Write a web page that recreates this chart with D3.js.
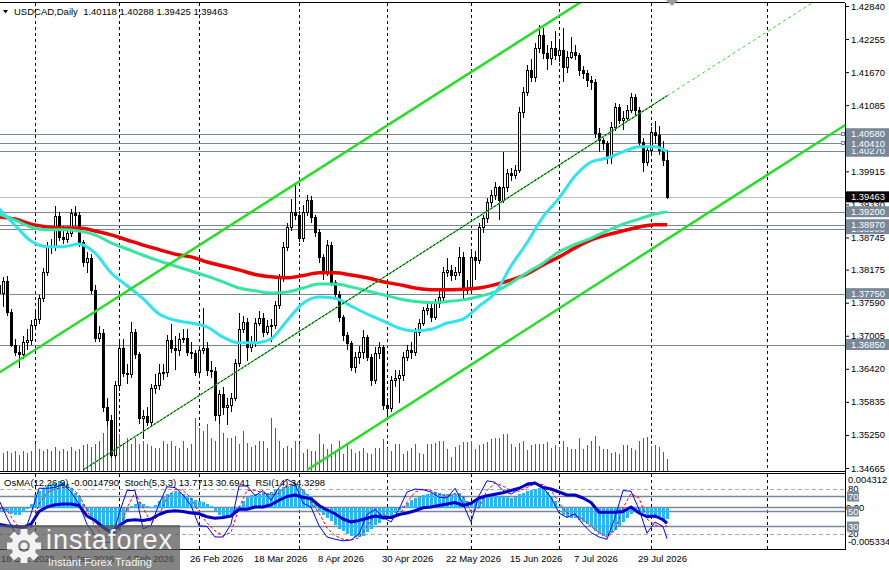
<!DOCTYPE html>
<html>
<head>
<meta charset="utf-8">
<script src="https://cdn.jsdelivr.net/npm/d3@7"></script>
<style>
  html, body { margin: 0; padding: 0; background: #fff; }
  svg { display: block; font-family: "Liberation Sans", Arial, sans-serif; }
</style>
</head>
<body>
<svg id="chart" width="889" height="570"></svg>
<script>
// ---- data ----
const symbol = "USDCAD,Daily";
const firstOpen = 1.3790;
const closes = [
  1.3776,1.3797,1.3743,1.3684,1.3672,1.3668,1.3689,1.3693,1.3720,1.3730,
  1.3767,1.3813,1.3858,1.3859,1.3912,1.3875,1.3872,1.3882,1.3918,1.3914,
  1.3866,1.3831,1.3838,1.3781,1.3697,1.3705,1.3574,1.3551,1.3490,1.3613,
  1.3679,1.3635,1.3633,1.3707,1.3668,1.3555,1.3558,1.3548,1.3608,1.3613,
  1.3635,1.3636,1.3693,1.3679,1.3675,1.3695,1.3697,1.3672,1.3670,1.3636,
  1.3675,1.3679,1.3640,1.3638,1.3560,1.3597,1.3574,1.3578,1.3590,1.3652,
  1.3712,1.3725,1.3681,1.3688,1.3723,1.3732,1.3707,1.3718,1.3720,1.3755,
  1.3803,1.3858,1.3893,1.3920,1.3914,1.3874,1.3920,1.3941,1.3911,1.3884,
  1.3840,1.3813,1.3861,1.3796,1.3774,1.3734,1.3702,1.3688,1.3645,1.3663,
  1.3672,1.3698,1.3663,1.3622,1.3670,1.3681,1.3578,1.3573,1.3622,1.3626,
  1.3631,1.3663,1.3675,1.3672,1.3707,1.3723,1.3746,1.3750,1.3734,1.3758,
  1.3769,1.3813,1.3817,1.3808,1.3813,1.3840,1.3781,1.3785,1.3840,1.3835,
  1.3893,1.3909,1.3937,1.3950,1.3964,1.3941,1.3964,1.3988,1.3985,1.3994,
  1.4096,1.4132,1.4171,1.4158,1.4210,1.4233,1.4201,1.4192,1.4210,1.4197,
  1.4206,1.4176,1.4194,1.4203,1.4197,1.4171,1.4165,1.4153,1.4150,1.4059,
  1.4047,1.4042,1.4017,1.4070,1.4105,1.4082,1.4086,1.4100,1.4123,1.4100,
  1.4043,1.4008,1.4029,1.4061,1.4056,1.4029,1.40118,1.39463
];
const highs = [
  1.3800,1.3804,1.3806,1.3748,1.3695,1.3683,1.3700,1.3712,1.3728,1.3745,
  1.3772,1.3820,1.3866,1.3872,1.3930,1.3920,1.3895,1.3894,1.3925,1.3930,
  1.3920,1.3870,1.3848,1.3845,1.3790,1.3718,1.3712,1.3590,1.3560,1.3620,
  1.3690,1.3695,1.3650,1.3725,1.3712,1.3672,1.3570,1.3575,1.3615,1.3632,
  1.3650,1.3650,1.3702,1.3722,1.3700,1.3705,1.3712,1.3712,1.3690,1.3676,
  1.3682,1.3750,1.3690,1.3655,1.3645,1.3605,1.3610,1.3590,1.3600,1.3660,
  1.3740,1.3735,1.3732,1.3700,1.3732,1.3745,1.3740,1.3728,1.3730,1.3762,
  1.3810,1.3866,1.3900,1.3942,1.3970,1.3922,1.3932,1.3950,1.3948,1.3915,
  1.3890,1.3845,1.3870,1.3866,1.3800,1.3780,1.3738,1.3708,1.3692,1.3672,
  1.3682,1.3710,1.3702,1.3668,1.3680,1.3690,1.3684,1.3590,1.3630,1.3640,
  1.3640,1.3672,1.3685,1.3690,1.3715,1.3730,1.3752,1.3762,1.3758,1.3765,
  1.3780,1.3822,1.3838,1.3825,1.3822,1.3858,1.3848,1.3800,1.3848,1.3850,
  1.3900,1.3915,1.3945,1.3958,1.3972,1.3966,1.4025,1.3995,1.3998,1.4002,
  1.4105,1.4140,1.4180,1.4190,1.4218,1.4250,1.4245,1.4215,1.4222,1.4240,
  1.4220,1.4245,1.4205,1.4230,1.4215,1.4200,1.4178,1.4170,1.4160,1.4155,
  1.4068,1.4050,1.4045,1.4078,1.4112,1.4110,1.4098,1.4108,1.4130,1.4128,
  1.4105,1.4050,1.4035,1.4070,1.4080,1.4072,1.4045,1.40288
];
const lows = [
  1.3765,1.3751,1.3735,1.3680,1.3665,1.3643,1.3660,1.3675,1.3684,1.3712,
  1.3722,1.3760,1.3806,1.3845,1.3850,1.3868,1.3862,1.3864,1.3876,1.3895,
  1.3858,1.3822,1.3812,1.3775,1.3690,1.3690,1.3565,1.3540,1.3485,1.3484,
  1.3602,1.3628,1.3615,1.3625,1.3660,1.3545,1.3518,1.3540,1.3540,1.3598,
  1.3605,1.3622,1.3628,1.3670,1.3640,1.3665,1.3688,1.3665,1.3660,1.3630,
  1.3630,1.3668,1.3630,1.3625,1.3550,1.3545,1.3560,1.3543,1.3565,1.3585,
  1.3645,1.3705,1.3655,1.3672,1.3680,1.3718,1.3698,1.3702,1.3690,1.3712,
  1.3748,1.3796,1.3850,1.3885,1.3905,1.3866,1.3866,1.3912,1.3900,1.3875,
  1.3830,1.3800,1.3806,1.3788,1.3765,1.3725,1.3692,1.3675,1.3638,1.3635,
  1.3650,1.3660,1.3655,1.3612,1.3615,1.3660,1.3570,1.3552,1.3565,1.3610,
  1.3582,1.3620,1.3655,1.3660,1.3665,1.3700,1.3718,1.3738,1.3725,1.3728,
  1.3750,1.3762,1.3805,1.3798,1.3800,1.3806,1.3764,1.3774,1.3778,1.3799,
  1.3828,1.3882,1.3900,1.3928,1.3940,1.3905,1.3935,1.3955,1.3975,1.3978,
  1.3988,1.4085,1.4125,1.4150,1.4150,1.4200,1.4190,1.4170,1.4180,1.4188,
  1.4185,1.4150,1.4165,1.4190,1.4188,1.4160,1.4155,1.4140,1.4135,1.4050,
  1.4025,1.4030,1.4005,1.4005,1.4062,1.4075,1.4065,1.4080,1.4095,1.4090,
  1.4035,1.3990,1.4000,1.4020,1.4040,1.4020,1.4000,1.39425
];
// tick volume (hundreds)
const volumes = [
  20,18,20,18,20,16,20,18,20,27, 22,20,22,20,24,20,22,20,24,20,
  22,26,27,24,27,30,38,53,53,31, 37,27,33,27,33,27,30,27,25,23,
  23,30,27,30,25,23,30,23,27,53, 43,40,47,33,30,53,38,33,33,35,
  27,40,28,24,26,30,30,23,53,43, 30,23,25,23,30,27,18,22,20,20,
  37,27,22,27,20,30,17,27,22,18, 20,23,18,17,23,23,32,23,20,27,
  27,17,20,23,27,18,17,27,27,28, 30,30,22,14,24,26,29,29,30,22,
  26,27,29,32,33,33,37,37,27,24, 28,30,21,26,27,27,27,29,23,26,
  24,30,24,22,22,33,22,26,30,35, 25,22,22,18,19,17,26,26,23,21,
  30,33,34,25,26,24,19,12
];

const dateLabels = ["18 Dec 2025","13 Jan 2026","4 Feb 2026","26 Feb 2026","18 Mar 2026",
  "8 Apr 2026","30 Apr 2026","22 May 2026","15 Jun 2026","7 Jul 2026","29 Jul 2026"];
const dateLabelStep = 16;
const gridBars = [9, 30, 50, 75, 97, 118, 140, 163, 192];

const priceTicks = [1.42840,1.42255,1.41670,1.41085,1.40500,1.39915,1.39330,1.38745,
  1.38175,1.37590,1.37005,1.36420,1.35835,1.35250,1.34665];
const levelLines = [1.40270, 1.40410, 1.40580, 1.38900, 1.38970, 1.39200, 1.37750, 1.36850];
const anchoredLevels = [1.40580, 1.40410];

// moving averages sampled every 4 bars (+ last bar)
const maBars = d3.range(0, 165, 4).concat([167]);
const maFast = [1.3925,1.3896,1.3868,1.3858,1.3858,1.3863,1.3847,1.3812,1.3789,1.3766,
  1.3739,1.3728,1.3723,1.3716,1.3698,1.3688,1.3688,1.3695,1.3727,1.3758,1.3769,1.3767,
  1.3753,1.3739,1.3727,1.3714,1.3709,1.3712,1.3723,1.3730,1.3753,1.3776,1.3824,1.3865,
  1.3911,1.3944,1.3983,1.4008,1.4015,1.4026,1.4035,1.4035,1.4026];
const maMid = [1.3916,1.3905,1.3893,1.3888,1.3888,1.3886,1.3879,1.3865,1.3854,1.3843,
  1.3833,1.3824,1.3815,1.3806,1.3796,1.3785,1.3780,1.3776,1.3778,1.3785,1.3792,1.3792,
  1.3787,1.3780,1.3773,1.3766,1.3761,1.3759,1.3761,1.3764,1.3770,1.3778,1.3794,1.3812,
  1.3829,1.3849,1.3862,1.3873,1.3886,1.3898,1.3907,1.3916,1.3920];
const maSlow = [1.3911,1.3907,1.3898,1.3893,1.3891,1.3891,1.3886,1.3879,1.3870,1.3861,
  1.3853,1.3845,1.3840,1.3831,1.3824,1.3817,1.3809,1.3805,1.3803,1.3807,1.3812,1.3812,
  1.3808,1.3803,1.3796,1.3791,1.3785,1.3782,1.3782,1.3783,1.3785,1.3791,1.3799,1.3810,
  1.3826,1.3840,1.3856,1.3870,1.3879,1.3886,1.3893,1.3897,1.3897];

// channel lines: [bar, price] anchors
const upperChannel = [[0, 1.3635], [100, 1.4086]];
const midChannel   = [[21, 1.3463], [167, 1.4125]];
const lowerChannel = [[77, 1.3463], [172, 1.3894]];

// OsMA(12,26,9) per bar
const osma = [
  -0.0004,-0.0005,-0.0006,-0.0008,-0.0009,-0.0009,-0.0006,-0.0002,0.0005,0.0016,
  0.0021,0.0025,0.0028,0.0030,0.0032,0.0034,0.0033,0.0030,0.0025,0.0019,
  0.0013,0.0004,-0.0006,-0.0013,-0.0017,-0.0021,-0.0026,-0.0029,-0.0033,-0.0034,
  -0.0030,-0.0018,-0.0004,0.0002,0.0005,0.0007,0.0004,0.0002,0.0001,0.0003,
  0.0009,0.0013,0.0017,0.0019,0.0021,0.0020,0.0018,0.0015,0.0012,0.0010,
  0.0009,0.0007,0.0004,0.0002,-0.0005,-0.0009,-0.0011,-0.0013,-0.0011,-0.0005,
  0.0002,0.0009,0.0013,0.0016,0.0017,0.0018,0.0019,0.0019,0.0020,0.0022,
  0.0024,0.0026,0.0028,0.0030,0.0030,0.0026,0.0022,0.0017,0.0013,0.0005,
  -0.0006,-0.0010,-0.0013,-0.0017,-0.0023,-0.0027,-0.0030,-0.0034,-0.0037,-0.0038,
  -0.0038,-0.0036,-0.0032,-0.0027,-0.0023,-0.0020,-0.0016,-0.0013,-0.0011,-0.0007,
  -0.0003,0.0002,0.0006,0.0010,0.0012,0.0014,0.0016,0.0018,0.0019,0.0020,
  0.0019,0.0018,0.0018,0.0018,0.0018,0.0019,0.0013,0.0008,0.0006,0.0009,
  0.0012,0.0014,0.0015,0.0016,0.0016,0.0015,0.0014,0.0013,0.0012,0.0014,
  0.0017,0.0019,0.0021,0.0022,0.0024,0.0025,0.0024,0.0020,0.0015,0.0008,
  0.0002,-0.0009,-0.0012,-0.0013,-0.0014,-0.0016,-0.0018,-0.0021,-0.0025,-0.0030,
  -0.0034,-0.0036,-0.0036,-0.0033,-0.0029,-0.0024,-0.0019,-0.0013,-0.0008,-0.0006,
  -0.0005,-0.0007,-0.0010,-0.0012,-0.0014,-0.0015,-0.0015,-0.0014790
];

// oscillators sampled every 2 bars (+ last bar)
const oscBars = d3.range(0, 167, 2).concat([167]);
const stochMain = [65,42,22,16,47,81,81,82,87,76, 60,33,18,9,9,47,78,78,27,31,
  60,83,82,72,58,31,30,16,16,33, 84,84,71,78,65,82,93,87,61,56,
  31,16,13,11,12,20,46,53,42,36, 53,76,80,79,76,69,68,81,60,36,
  71,91,89,78,73,80,88,89,82,69, 48,42,47,33,22,16,13,42,78,77,
  53,21,36,30,13.7713];
const stochSignal = [55,52,35,22,28,60,75,80,82,82, 72,52,30,18,12,25,55,75,55,35,
  45,68,80,78,68,48,35,24,18,22, 55,78,78,75,72,74,85,88,78,62,
  48,28,18,13,12,15,30,45,46,42, 44,62,76,80,78,73,70,74,70,50,
  55,78,88,84,78,77,82,87,86,78, 62,48,45,40,30,22,16,25,55,74,
  68,40,32,30,30.6941];
const rsi = [33,31,30,29,33,50,56,59,60,60, 58,44,38,29,22,31,38,39,38,40,
  46,50,51,50,48,47,43,41,42,44, 53,53,56,56,59,65,70,72,69,67,
  58,52,47,40,36,38,41,44,42,42, 46,48,51,55,56,58,60,62,58,61,
  68,71,73,75,78,81,86,88,82,80, 76,72,72,68,62,49,49,49,50,56,
  48,43,44,39,34.3298];
const oscDashed = [80, 20];
const oscSolid = [70, 50, 30];

// ---- layout ----
const PLOT_R = 845, MAIN_T = 3, MAIN_B = 471, OSC_T = 474, OSC_B = 549;
const svg = d3.select("#chart");

const bars = closes.map((c, i) => ({
  i: i, o: i ? closes[i - 1] : firstOpen, h: highs[i], l: lows[i], c: c,
  v: volumes[i], osma: osma[i]
}));
const last = bars[bars.length - 1];

const x = d3.scaleLinear().domain([0, 167]).range([-1, 667]);
const y = d3.scaleLinear().domain([1.34665, 1.42840]).range([468, 6]);
const yVol = d3.scaleLinear().domain([0, 60]).range([MAIN_B, MAIN_B - 60]);
const yOsma = d3.scaleLinear().domain([-0.005334, 0.004312]).range([OSC_B, OSC_T]);
const yOsc = d3.scaleLinear().domain([0, 100]).range([OSC_B, OSC_T]);
const cx = i => Math.round(x(i));

const defs = svg.append("defs");
defs.append("clipPath").attr("id", "clipMain").append("rect")
  .attr("x", 0).attr("y", MAIN_T).attr("width", PLOT_R).attr("height", MAIN_B - MAIN_T);
defs.append("clipPath").attr("id", "clipOsc").append("rect")
  .attr("x", 0).attr("y", OSC_T).attr("width", PLOT_R).attr("height", OSC_B - OSC_T);

// vertical grid
const grid = svg.append("g").attr("stroke", "#000").attr("stroke-dasharray", "3,3");
gridBars.forEach(b => {
  const gx = cx(b) + 0.5;
  grid.append("line").attr("x1", gx).attr("x2", gx).attr("y1", MAIN_T).attr("y2", MAIN_B);
  grid.append("line").attr("x1", gx).attr("x2", gx).attr("y1", OSC_T).attr("y2", OSC_B);
});

// ---- main panel ----
const main = svg.append("g").attr("clip-path", "url(#clipMain)");

main.append("g").attr("stroke", "#778899").attr("shape-rendering", "crispEdges")
  .selectAll("line").data(levelLines).join("line")
  .attr("x1", 0).attr("x2", PLOT_R)
  .attr("y1", d => Math.round(y(d)) + 0.5).attr("y2", d => Math.round(y(d)) + 0.5);

main.append("line").attr("stroke", "#c0c0c0")
  .attr("x1", 0).attr("x2", PLOT_R)
  .attr("y1", Math.round(y(last.c)) + 0.5).attr("y2", Math.round(y(last.c)) + 0.5);

main.append("g").attr("stroke", "#1a8a1a").attr("shape-rendering", "crispEdges")
  .selectAll("line").data(bars).join("line")
  .attr("x1", d => cx(d.i) + 0.5).attr("x2", d => cx(d.i) + 0.5)
  .attr("y1", yVol(0)).attr("y2", d => yVol(d.v));

const candles = main.append("g").attr("shape-rendering", "crispEdges");
candles.selectAll("line").data(bars).join("line")
  .attr("stroke", "#000")
  .attr("x1", d => cx(d.i) + 0.5).attr("x2", d => cx(d.i) + 0.5)
  .attr("y1", d => y(d.h)).attr("y2", d => y(d.l));
candles.selectAll("rect").data(bars).join("rect")
  .attr("x", d => cx(d.i) - 0.5).attr("width", 2)
  .attr("y", d => Math.round(y(Math.max(d.o, d.c))) + 0.5)
  .attr("height", d => Math.max(0, Math.round(y(Math.min(d.o, d.c))) - Math.round(y(Math.max(d.o, d.c)))))
  .attr("fill", d => d.c >= d.o ? "#fff" : "#000")
  .attr("stroke", "#000");

const maLine = d3.line().x(d => x(d[0])).y(d => y(d[1])).curve(d3.curveMonotoneX);
[[maSlow, "#ee0000", 3.5], [maMid, "#35e6a0", 3], [maFast, "#2ee4f2", 3]].forEach(([vals, col, w]) => {
  main.append("path").datum(maBars.map((b, k) => [b, vals[k]]))
    .attr("fill", "none").attr("stroke", col).attr("stroke-width", w)
    .attr("stroke-linejoin", "round").attr("d", maLine);
});

function channelAt(line, b) {
  const [[b1, p1], [b2, p2]] = line;
  return p1 + (b - b1) * (p2 - p1) / (b2 - b1);
}
const segLine = d3.line().x(d => x(d[0])).y(d => y(d[1]));
function channel(line, from, to) {
  return segLine([[from, channelAt(line, from)], [to, channelAt(line, to)]]);
}
main.append("path").attr("d", channel(upperChannel, -5, 260))
  .attr("stroke", "#22e022").attr("stroke-width", 2.5).attr("fill", "none");
main.append("path").attr("d", channel(lowerChannel, lowerChannel[0][0], 260))
  .attr("stroke", "#22e022").attr("stroke-width", 2.5).attr("fill", "none");
main.append("path").attr("d", channel(midChannel, midChannel[0][0], midChannel[1][0]))
  .attr("stroke", "#22e022").attr("stroke-width", 1.2).attr("fill", "none");
main.append("path").attr("d", channel(midChannel, midChannel[0][0], midChannel[1][0]))
  .attr("stroke", "#000").attr("stroke-width", 1).attr("stroke-dasharray", "2,2").attr("fill", "none");
main.append("path").attr("d", channel(midChannel, midChannel[1][0], 260))
  .attr("stroke", "#22e022").attr("stroke-width", 1).attr("stroke-dasharray", "3,3").attr("fill", "none");

// small anchors at the right end of two level lines
svg.append("g").selectAll("rect").data(anchoredLevels).join("rect")
  .attr("x", 841.5).attr("y", d => Math.round(y(d)) - 1.5).attr("width", 3).attr("height", 3)
  .attr("fill", "#fff").attr("stroke", "#778899");

// ---- oscillator panel ----
const osc = svg.append("g").attr("clip-path", "url(#clipOsc)");
osc.append("g").attr("stroke", "#a9a9a9").attr("stroke-dasharray", "4,3")
  .selectAll("line").data(oscDashed).join("line")
  .attr("x1", 0).attr("x2", PLOT_R)
  .attr("y1", d => Math.round(yOsc(d)) + 0.5).attr("y2", d => Math.round(yOsc(d)) + 0.5);
osc.append("g").attr("stroke", "#778899").attr("stroke-width", 1.5)
  .selectAll("line").data(oscSolid).join("line")
  .attr("x1", 0).attr("x2", PLOT_R)
  .attr("y1", d => yOsc(d)).attr("y2", d => yOsc(d));
osc.append("line").attr("stroke", "#778899").attr("stroke-width", 1.5)
  .attr("x1", 0).attr("x2", PLOT_R).attr("y1", yOsma(0)).attr("y2", yOsma(0));

osc.append("g").attr("fill", "#2cb5ee").attr("shape-rendering", "crispEdges")
  .selectAll("rect").data(bars).join("rect")
  .attr("x", d => cx(d.i) - 1).attr("width", 3)
  .attr("y", d => Math.min(yOsma(0), yOsma(d.osma)))
  .attr("height", d => Math.abs(yOsma(d.osma) - yOsma(0)));

const oscLine = d3.line().x(d => x(d[0])).y(d => yOsc(d[1]));
osc.append("path").datum(oscBars.map((b, k) => [b, stochSignal[k]]))
  .attr("fill", "none").attr("stroke", "#ff0000").attr("stroke-width", 1)
  .attr("stroke-dasharray", "3,2").attr("d", oscLine);
osc.append("path").datum(oscBars.map((b, k) => [b, stochMain[k]]))
  .attr("fill", "none").attr("stroke", "#0000ff").attr("stroke-width", 1).attr("d", oscLine);
osc.append("path").datum(oscBars.map((b, k) => [b, rsi[k]]))
  .attr("fill", "none").attr("stroke", "#0000cc").attr("stroke-width", 3)
  .attr("stroke-linejoin", "round").attr("d", oscLine);

// ---- frames ----
const frame = svg.append("g").attr("stroke", "#000").attr("shape-rendering", "crispEdges");
frame.append("line").attr("x1", 0).attr("x2", PLOT_R).attr("y1", 2.5).attr("y2", 2.5);
frame.append("line").attr("x1", 0).attr("x2", PLOT_R).attr("y1", MAIN_B + 0.5).attr("y2", MAIN_B + 0.5);
frame.append("line").attr("x1", 0).attr("x2", PLOT_R).attr("y1", OSC_T - 0.5).attr("y2", OSC_T - 0.5);
frame.append("line").attr("x1", 0).attr("x2", PLOT_R).attr("y1", OSC_B + 0.5).attr("y2", OSC_B + 0.5);
frame.append("line").attr("x1", PLOT_R + 0.5).attr("x2", PLOT_R + 0.5).attr("y1", 2.5).attr("y2", OSC_B + 0.5);

svg.append("path").attr("d", "M666,0 L678,0 L672,6 Z").attr("fill", "#9a9a9a");

// ---- price axis ----
const axis = svg.append("g").attr("transform", `translate(${PLOT_R},0)`)
  .call(d3.axisRight(y).tickValues(priceTicks).tickFormat(d3.format(".5f"))
    .tickSize(4).tickPadding(2));
axis.select(".domain").remove();
axis.selectAll("text").attr("font-size", "9.4px").attr("fill", "#000")
  .attr("font-family", '"Liberation Sans", Arial, sans-serif');

function priceBox(p, fill) {
  const by = y(p);
  svg.append("rect").attr("x", 846).attr("y", by - 5.5).attr("width", 43).attr("height", 11)
    .attr("fill", fill);
  svg.append("text").attr("x", 851).attr("y", by).attr("dy", "0.34em")
    .attr("font-size", "9.4px").attr("fill", "#fff").text(d3.format(".5f")(p));
}
levelLines.forEach(p => priceBox(p, "#778899"));
priceBox(last.c, "#000");

// ---- oscillator axis labels ----
const oscAxis = svg.append("g").attr("font-size", "9.4px").attr("fill", "#000");
oscAxis.append("text").attr("x", 848).attr("y", yOsma(0.004312) + 6).attr("dy", "0.34em").text("0.004312");
oscAxis.append("text").attr("x", 848).attr("y", yOsma(-0.005334) - 7).attr("dy", "0.34em").text("-0.005334");
oscAxis.append("text").attr("x", 846).attr("y", yOsma(0)).attr("dy", "0.34em").text("0.00");
oscDashed.forEach(l => {
  oscAxis.append("text").attr("x", 848).attr("y", yOsc(l)).attr("dy", "0.34em").text(l);
});
oscSolid.forEach(l => {
  svg.append("rect").attr("x", 847).attr("y", yOsc(l) - 5).attr("width", 12).attr("height", 10)
    .attr("fill", "#778899");
  svg.append("text").attr("x", 848).attr("y", yOsc(l)).attr("dy", "0.34em")
    .attr("font-size", "9.4px").attr("fill", "#fff").text(l);
});

// ---- date labels ----
svg.append("g").attr("font-size", "9.5px").attr("fill", "#000")
  .selectAll("text").data(dateLabels).join("text")
  .attr("x", (d, k) => Math.max(1, x(k * dateLabelStep) - 1)).attr("y", 562).text(d => d);

// ---- headers ----
svg.append("path").attr("d", "M3,10 L8,10 L5.5,13.5 Z").attr("fill", "#000");
svg.append("text").attr("x", 14).attr("y", 15).attr("font-size", "9.5px").attr("fill", "#000")
  .style("white-space", "pre")
  .text(`${symbol}  ${[last.o, last.h, last.l, last.c].map(d3.format(".5f")).join(" ")}`);
svg.append("text").attr("x", 4).attr("y", 486).attr("font-size", "9.5px").attr("fill", "#000")
  .style("white-space", "pre")
  .text(`OsMA(12,26,9) ${last.osma.toFixed(7)}  Stoch(5,3,3) ${stochMain[stochMain.length - 1].toFixed(4)} ${stochSignal[stochSignal.length - 1].toFixed(4)}  RSI(14) ${rsi[rsi.length - 1].toFixed(4)}`);

// ---- watermark ----
const logo = svg.append("g");
logo.append("rect").attr("x", 0).attr("y", 525).attr("width", 180).attr("height", 45)
  .attr("fill", "#555").attr("opacity", 0.72);
const gear = logo.append("g").attr("transform", "translate(24,546)").attr("fill", "#f2f2f2");
d3.range(8).forEach(k => {
  gear.append("rect").attr("x", -3.5).attr("y", -17).attr("width", 7).attr("height", 8)
    .attr("transform", `rotate(${k * 45})`);
});
gear.append("path").attr("d", d3.arc().innerRadius(6).outerRadius(12.5).startAngle(0).endAngle(2 * Math.PI)());
gear.append("circle").attr("r", 3.5);
logo.append("text").attr("x", 46).attr("y", 549).attr("font-size", "27px")
  .attr("letter-spacing", "1px").attr("fill", "#f4f4f4").text("instaforex");
logo.append("text").attr("x", 48).attr("y", 566).attr("font-size", "11px")
  .attr("fill", "#f4f4f4").text("Instant Forex Trading");
</script>
</body>
</html>
